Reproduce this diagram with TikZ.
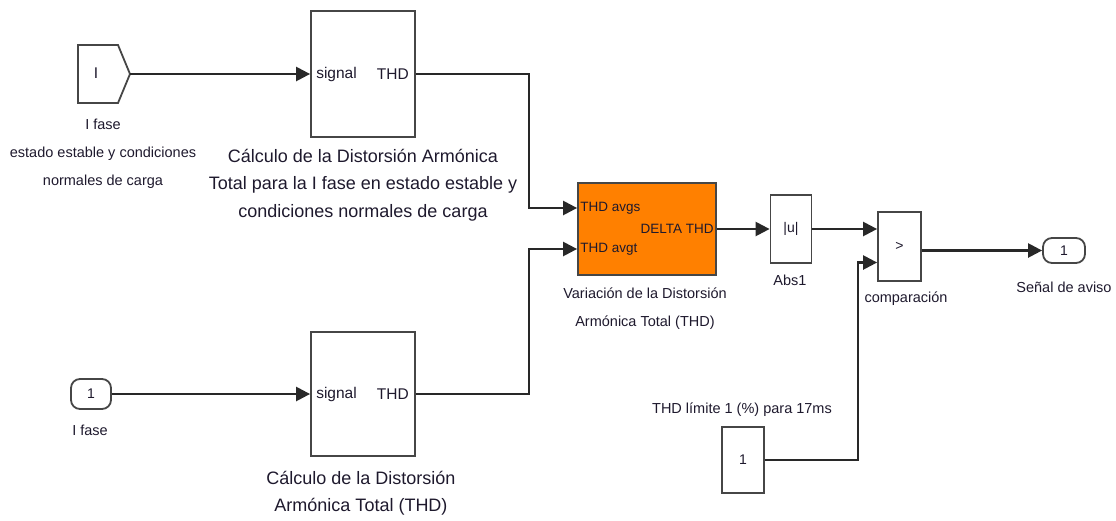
\documentclass[tikz,border=0pt]{standalone}
\usepackage{fontspec}
\setmainfont{Liberation Sans}
\definecolor{orange1}{RGB}{255,128,0}
\definecolor{wire1}{RGB}{40,40,40}
\definecolor{edge1}{RGB}{70,70,70}
\definecolor{ink1}{RGB}{30,25,45}
\usetikzlibrary{arrows.meta, positioning, calc}

\tikzset{
  block/.style={draw=edge1, line width=1.8pt, fill=white, inner sep=0pt, text=ink1, font=\fontsize{14}{16}\selectfont},
  port/.style={block, rounded corners=9pt},
  wire/.style={draw=wire1, line width=2.4pt, -{Triangle[length=14pt,width=14pt]}},
  lbl/.style={text=ink1, font=\fontsize{14.5}{28}\selectfont, align=center, inner sep=0pt},
  capt/.style={text=ink1, font=\fontsize{18}{27.5}\selectfont, align=center, inner sep=0pt},
  pin/.style={text=ink1, font=\fontsize{15.5}{18}\selectfont, inner sep=0pt},
  pinS/.style={text=ink1, font=\fontsize{13.5}{16}\selectfont, inner sep=0pt},
}

\begin{document}
\begin{tikzpicture}[x=1pt, y=-1pt]
  \useasboundingbox (0,0) rectangle (1116,520);

  \draw[block] (78,45) -- (118,45) -- (130,74) -- (118,103) -- (78,103) -- cycle;
  \coordinate (fromI) at (130,74);
  \node[pin] (fromItxt) at (96,73) {I};
  \node[lbl] (fromIcap) at (103,154) {I fase\\estado estable y condiciones\\normales de carga};

  \node[block, minimum width=104pt, minimum height=126pt] (calcA) at (363,74) {};
  \node[pin, anchor=west] (calcAsig) at ([xshift=6pt]calcA.west) {signal};
  \node[pin, anchor=east] (calcAthd) at ([xshift=-7pt]calcA.east) {THD};
  \node[capt] (calcAcap) at (363,185) {Cálculo de la Distorsión Armónica\\Total para la I fase en estado estable y\\condiciones normales de carga};

  \node[port, minimum width=40pt, minimum height=30pt] (inI) at (91,394) {1};
  \node[lbl] (inIcap) at (90,430) {I fase};

  \node[block, minimum width=104pt, minimum height=124pt] (calcB) at (363,394) {};
  \node[pin, anchor=west] (calcBsig) at ([xshift=6pt]calcB.west) {signal};
  \node[pin, anchor=east] (calcBthd) at ([xshift=-7pt]calcB.east) {THD};
  \node[capt] (calcBcap) at (361,493) {Cálculo de la Distorsión\\Armónica Total (THD)};

  \node[block, fill=orange1, minimum width=138pt, minimum height=92pt] (dvar) at (647,229) {};
  \coordinate (dvS) at ($(dvar.west)+(0,-21)$);
  \coordinate (dvT) at ($(dvar.west)+(0,20)$);
  \node[pinS, anchor=west] (dvSlbl) at ([xshift=3pt]dvS) {THD avgs};
  \node[pinS, anchor=west] (dvTlbl) at ([xshift=3pt]dvT) {THD avgt};
  \node[pinS, anchor=east] (dvOlbl) at ([xshift=-3pt]dvar.east) {DELTA THD};
  \node[lbl] (dvarcap) at (645,309) {Variación de la Distorsión\\Armónica Total (THD)};

  \node[block, minimum width=41pt, minimum height=68pt] (abs) at (791,229) {|u|};
  \node[lbl] (abscap) at (790,280) {Abs1};

  \node[block, minimum width=43pt, minimum height=69pt] (cmp) at (899.5,246.5) {>};
  \coordinate (cmpA) at ($(cmp.west)+(0,-17.5)$);
  \coordinate (cmpB) at ($(cmp.west)+(0,16)$);
  \coordinate (cmpO) at ($(cmp.east)+(0,4)$);
  \node[lbl] (cmpcap) at (906,299) {comparación};

  \node[port, minimum width=42pt, minimum height=25pt] (sal) at (1064,250.5) {1};
  \node[lbl] (salcap) at (1064,287) {Señal de aviso};

  \node[block, minimum width=42pt, minimum height=66pt] (lim) at (743,460) {1};
  \node[lbl] (limcap) at (742,410) {THD límite 1 (\%) para 17ms};

  \draw[wire] (fromI) -- (calcA.west);
  \draw[wire] (inI.east) -- (calcB.west);
  \draw[wire] (calcA.east) -| ([xshift=-48pt]dvS) -- (dvS);
  \draw[wire] (calcB.east) -| ([xshift=-48pt]dvT) -- (dvT);
  \draw[wire] (dvar.east) -- (abs.west);
  \draw[wire] (abs.east) -- (cmpA);
  \draw[wire] (cmpO) -- (cmpO -| sal.west);
  \draw[wire] (lim.east) -| ([xshift=-19pt]cmpB) -- (cmpB);
\end{tikzpicture}
\end{document}
